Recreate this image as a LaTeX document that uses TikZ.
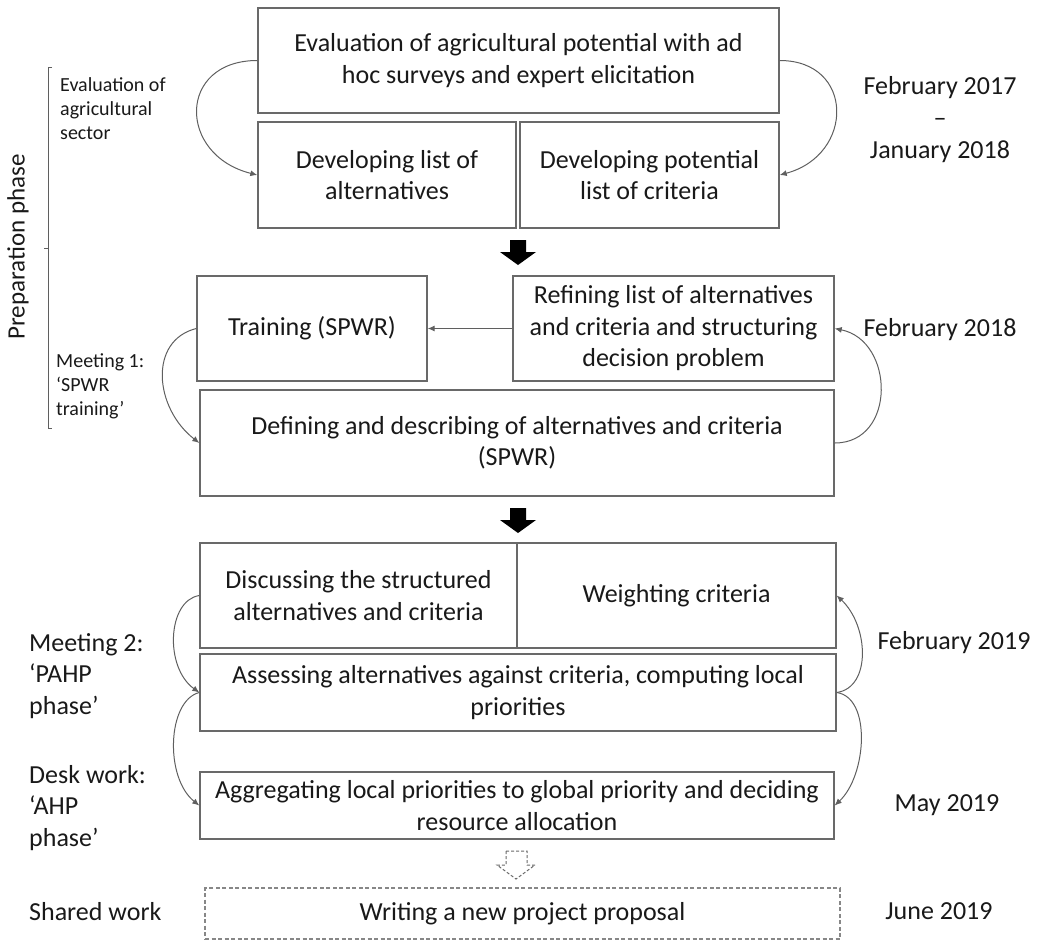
\documentclass[tikz,border=0pt]{standalone}
\usepackage{fontspec}
\setmainfont{Carlito}
\usetikzlibrary{arrows.meta}
\definecolor{boxgray}{RGB}{105,105,105}
\definecolor{linegray}{RGB}{95,95,95}
\definecolor{txt}{RGB}{25,25,25}
\begin{document}
\begin{tikzpicture}[x=1pt,y=-1pt,
  box/.style={draw=boxgray, line width=1.4pt, fill=white, align=center, inner sep=0pt, text=txt,
              font=\fontsize{26}{31.5}\selectfont},
  conn/.style={draw=linegray, line width=1pt, -{Latex[length=7pt,width=6pt]}},
  small/.style={align=left, anchor=west, inner sep=0pt, text=txt, font=\fontsize{20}{24}\selectfont},
  big/.style={align=left, anchor=west, inner sep=0pt, text=txt, font=\fontsize{26}{31.5}\selectfont},
  datelab/.style={align=center, inner sep=0pt, text=txt, font=\fontsize{26}{32}\selectfont},
]
\useasboundingbox (0,0) rectangle (1041,940);

% boxes
\node[box, minimum width=521pt, minimum height=105pt] (top) at (518.5,60.5)
  {Evaluation of agricultural potential with ad\\hoc surveys and expert elicitation};
\node[box, minimum width=258pt, minimum height=106pt] (alt) at (387,175)
  {Developing list of\\alternatives};
\node[box, minimum width=259pt, minimum height=106pt] (crit) at (649.5,175)
  {Developing potential\\list of criteria};

\node[box, minimum width=230pt, minimum height=105pt] (train) at (312,328.5)
  {Training (SPWR)};
\node[box, minimum width=321pt, minimum height=105pt] (refine) at (673.5,328.5)
  {Refining list of alternatives\\and criteria and structuring\\decision problem};
\node[box, minimum width=634pt, minimum height=106pt] (define) at (517,443)
  {Defining and describing of alternatives and criteria\\(SPWR)};

\node[box, minimum width=317pt, minimum height=105pt] (disc) at (358.5,595.5)
  {Discussing the structured\\alternatives and criteria};
\node[box, minimum width=319pt, minimum height=105pt] (weigh) at (676.5,595.5)
  {Weighting criteria};
\node[box, minimum width=636pt, minimum height=77pt] (assess) at (518,692.5)
  {Assessing alternatives against criteria, computing local\\priorities};
\node[box, minimum width=634pt, minimum height=67pt] (aggr) at (517,805.5)
  {Aggregating local priorities to global priority and deciding\\resource allocation};

\node[box, draw=boxgray!80, line width=1.2pt, dash pattern=on 4pt off 2.5pt,
      minimum width=635pt, minimum height=51pt] (write) at (522.5,913.5)
  {Writing a new project proposal};

% block arrows
\fill[black] (510,240) -- (526,240) -- (526,252) -- (536,252) -- (518,265)
  -- (500,252) -- (510,252) -- cycle;
\fill[black] (510,508) -- (526,508) -- (526,520) -- (536,520) -- (518,533)
  -- (500,520) -- (510,520) -- cycle;
\draw[boxgray, line width=1pt, dash pattern=on 3pt off 2pt, fill=white]
  (506,851) -- (527,851) -- (527,865) -- (535,865) -- (516,879)
  -- (497,865) -- (506,865) -- cycle;

% connectors
\draw[conn] (top.west) .. controls +(-80,0) and +(-80,-20) .. (alt.west);
\draw[conn] (top.east) .. controls +(75,0) and +(75,-20) .. (crit.east);
\draw[conn] (refine.west) -- (train.east);
\draw[conn] (train.west) .. controls +(-48,12) and +(-45,-35) .. (define.west);
\draw[conn] (define.east) .. controls +(62,0) and +(60,12) .. (refine.east);
\draw[conn] (disc.west) .. controls +(-32,5) and +(-35,-25) .. (assess.west);
\draw[conn] (assess.west) .. controls +(-32,8) and +(-35,-28) .. (aggr.west);
\draw[conn] (assess.east) .. controls +(35,-5) and +(32,30) .. (weigh.east);
\draw[conn] (assess.east) .. controls +(35,5) and +(32,-30) .. (aggr.east);

% bracket
\draw[linegray, line width=1pt] (52,67) -- (48,67) -- (48,428) -- (52,428);
\draw[linegray, line width=1pt] (48,248) -- (44,248);
\node[inner sep=0pt, rotate=90, text=txt, font=\fontsize{25}{30}\selectfont] (prep) at (18,247)
  {Preparation phase};

% left labels
\node[small] (evalsec) at (60,109) {Evaluation of\\agricultural\\sector};
\node[small] (meet1) at (56,386) {Meeting 1:\\‘SPWR\\training’};
\node[big] (meet2) at (29,676) {Meeting 2:\\‘PAHP\\phase’};
\node[big] (desk) at (29,808) {Desk work:\\‘AHP\\phase’};
\node[big] (shared) at (29,912) {Shared work};

% dates
\node[datelab] (d1) at (940,120) {February 2017\\–\\January 2018};
\node[datelab] (d2) at (940,330) {February 2018};
\node[datelab] (d3) at (954,643) {February 2019};
\node[datelab] (d4) at (947,805) {May 2019};
\node[datelab] (d5) at (939,911) {June 2019};
\end{tikzpicture}
\end{document}
